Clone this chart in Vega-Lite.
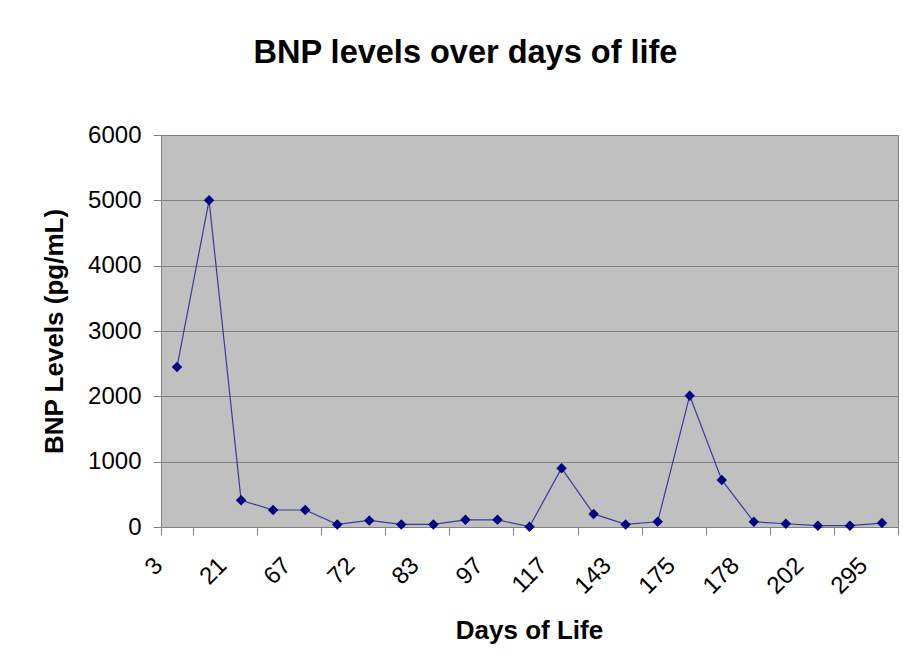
{
  "$schema": "https://vega.github.io/schema/vega-lite/v6.json",
  "width": 737,
  "height": 392,
  "autosize": {"type": "none"},
  "padding": {"left": 161, "top": 135, "right": 5, "bottom": 144},
  "background": "#ffffff",
  "title": {
    "text": "BNP levels over days of life",
    "font": "Liberation Sans",
    "fontSize": 32.5,
    "fontWeight": "bold",
    "color": "#000000",
    "anchor": "middle",
    "frame": "group",
    "dx": -64,
    "baseline": "alphabetic",
    "offset": 28
  },
  "config": {
    "view": {"fill": "#C0C0C0", "stroke": "#808080", "strokeWidth": 1}
  },
  "data": {
    "values": [
      {"day": 3, "bnp": 2450},
      {"day": 14, "bnp": 5000},
      {"day": 21, "bnp": 410},
      {"day": 45, "bnp": 260},
      {"day": 67, "bnp": 260},
      {"day": 70, "bnp": 40},
      {"day": 72, "bnp": 100},
      {"day": 77, "bnp": 40},
      {"day": 83, "bnp": 40},
      {"day": 90, "bnp": 110},
      {"day": 97, "bnp": 110},
      {"day": 108, "bnp": 5},
      {"day": 117, "bnp": 900},
      {"day": 130, "bnp": 200},
      {"day": 143, "bnp": 40},
      {"day": 160, "bnp": 80},
      {"day": 175, "bnp": 2010},
      {"day": 177, "bnp": 720},
      {"day": 178, "bnp": 80},
      {"day": 190, "bnp": 50},
      {"day": 202, "bnp": 20},
      {"day": 250, "bnp": 20},
      {"day": 295, "bnp": 60}
    ]
  },
  "encoding": {
    "x": {
      "field": "day",
      "type": "ordinal",
      "bandPosition": 0.5,
      "scale": {"type": "band", "paddingInner": 0, "paddingOuter": 0},
      "axis": {
        "values": [3, 21, 67, 72, 83, 97, 117, 143, 175, 178, 202, 295],
        "tickBand": "extent",
        "labelAngle": -45,
        "labelAlign": "right",
        "labelBaseline": "top",
        "labelOffset": -27,
        "labelPadding": 18,
        "labelFont": "Liberation Sans",
        "labelFontSize": 24,
        "labelColor": "#000000",
        "tickColor": "#808080",
        "tickSize": 8,
        "domainColor": "#808080",
        "grid": false,
        "title": "Days of Life",
        "titleFont": "Liberation Sans",
        "titleFontSize": 26,
        "titleFontWeight": "bold",
        "titleColor": "#000000",
        "titleX": 368,
        "titleY": 103,
        "titleAlign": "center",
        "titleBaseline": "middle"
      }
    },
    "y": {
      "field": "bnp",
      "type": "quantitative",
      "scale": {"domain": [0, 6000], "nice": false},
      "axis": {
        "values": [0, 1000, 2000, 3000, 4000, 5000, 6000],
        "format": "d",
        "grid": true,
        "gridColor": "#808080",
        "gridWidth": 1,
        "gridOpacity": 1,
        "domain": false,
        "tickColor": "#808080",
        "tickSize": 8,
        "labelFont": "Liberation Sans",
        "labelFontSize": 24,
        "labelColor": "#000000",
        "labelPadding": 12,
        "title": "BNP Levels (pg/mL)",
        "titleFont": "Liberation Sans",
        "titleFontSize": 26,
        "titleFontWeight": "bold",
        "titleColor": "#000000",
        "titleAngle": -90,
        "titleX": -107,
        "titleY": 196,
        "titleAlign": "center",
        "titleBaseline": "middle"
      }
    }
  },
  "layer": [
    {"mark": {"type": "line", "color": "#3a3a9c", "strokeWidth": 1.2}},
    {"mark": {"type": "point", "shape": "diamond", "filled": true, "color": "#000080", "opacity": 1, "size": 110}}
  ]
}
